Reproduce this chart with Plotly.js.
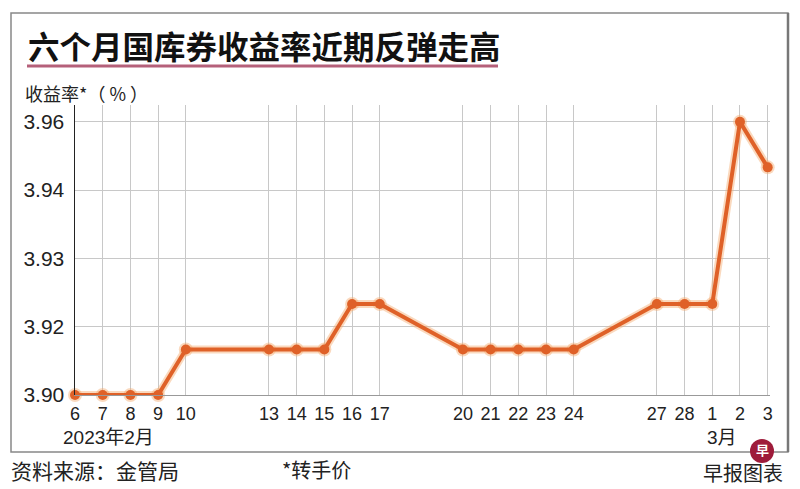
<!DOCTYPE html>
<html>
<head>
<meta charset="utf-8">
<script src="https://cdn.plot.ly/plotly-3.0.1.min.js"></script>
<style>html,body{margin:0;padding:0;background:#fff;}#chart{width:800px;height:489px;}</style>
</head>
<body>
<div id="chart"></div>
<script>
// Data
const dates = ['2023-02-06','2023-02-07','2023-02-08','2023-02-09','2023-02-10',
  '2023-02-13','2023-02-14','2023-02-15','2023-02-16','2023-02-17',
  '2023-02-20','2023-02-21','2023-02-22','2023-02-23','2023-02-24',
  '2023-02-27','2023-02-28','2023-03-01','2023-03-02','2023-03-03'];
const yields = [3.90,3.90,3.90,3.90,3.91,
  3.91,3.91,3.91,3.92,3.92,
  3.91,3.91,3.91,3.91,3.91,
  3.92,3.92,3.92,3.96,3.95];
const dayLabels = ['6','7','8','9','10','13','14','15','16','17','20','21','22','23','24','27','28','1','2','3'];
const yTickVals = [3.90,3.915,3.93,3.945,3.96];
const yTickText = ['3.90','3.92','3.93','3.94','3.96'];

const W = 800, H = 489;
const L = 75, R = 30, T = 105, B = 94;
const pw = W - L - R, ph = H - T - B;
const px = x => (x - L) / pw;
const py = y => (H - B - y) / ph;
const FONT = 'Liberation Sans, Noto Sans CJK SC, sans-serif';
const CJK = 'Noto Sans CJK SC, sans-serif';

const halo = {
  x: dates, y: yields, type: 'scatter', mode: 'lines+markers',
  line: {color: 'rgba(245,170,110,0.45)', width: 8},
  marker: {color: 'rgba(245,170,110,0.45)', size: 14},
  cliponaxis: false, hoverinfo: 'skip'
};
const trace = {
  x: dates, y: yields, type: 'scatter', mode: 'lines+markers',
  line: {color: '#df6128', width: 4},
  marker: {color: '#df6128', size: 10},
  cliponaxis: false, hoverinfo: 'skip'
};

const ann = (x, y, text, size, opts) => Object.assign({
  xref: 'paper', yref: 'paper', x: px(x), y: py(y), text: text, showarrow: false,
  xanchor: 'left', yanchor: 'middle', font: {family: CJK, size: size, color: '#222'}
}, opts || {});

const layout = {
  width: W, height: H,
  margin: {l: L, r: R, t: T, b: B, pad: 0},
  paper_bgcolor: '#fff', plot_bgcolor: '#fff',
  showlegend: false,
  xaxis: {
    type: 'date',
    range: ['2023-02-06', '2023-03-03 02:00'],
    tickvals: dates, ticktext: dayLabels,
    showgrid: true, gridcolor: '#c8c8c8', gridwidth: 1,
    showline: true, linecolor: '#999', linewidth: 1,
    ticks: '', zeroline: false, ticklabelstandoff: 2,
    tickfont: {family: FONT, size: 18, color: '#222'}
  },
  yaxis: {
    range: [3.90, 3.9637],
    tickvals: yTickVals, ticktext: yTickText,
    showgrid: true, gridcolor: '#c8c8c8', gridwidth: 1,
    showline: true, linecolor: '#222', linewidth: 1.5,
    ticks: '', zeroline: false, ticklabelstandoff: 5,
    tickfont: {family: FONT, size: 21, color: '#222'}
  },
  shapes: [
    {type: 'rect', xref: 'paper', yref: 'paper', x0: px(11), x1: px(788), y0: py(452), y1: py(13),
     line: {color: '#888', width: 1.5}, fillcolor: 'rgba(0,0,0,0)', layer: 'below'},
    {type: 'line', xref: 'paper', yref: 'paper', x0: px(788), x1: px(788), y0: py(452), y1: py(13),
     line: {color: '#777', width: 2.5}},
    {type: 'line', xref: 'paper', yref: 'paper', x0: px(27), x1: px(498), y0: py(66), y1: py(66),
     line: {color: '#b5607a', width: 3}},
    {type: 'circle', xref: 'paper', yref: 'paper', x0: px(750), x1: px(774), y0: py(439), y1: py(463),
     fillcolor: '#9e1b3a', line: {width: 0}}
  ],
  annotations: [
    ann(26, 45, '<b>六个月国库券收益率近期反弹走高</b>', 31.5, {font: {family: CJK, size: 31.5, color: '#111'}}),
    ann(23, 93, '收益率*（ % ）', 18),
    ann(61, 437, '2023年2月', 19, {font: {family: FONT, size: 19, color: '#222'}}),
    ann(722, 437, '3月', 19, {xanchor: 'center', font: {family: FONT, size: 19, color: '#222'}}),
    ann(9, 470, '资料来源：金管局', 21),
    ann(280, 469, '*转手价', 20),
    ann(785, 472, '早报图表', 20, {xanchor: 'right'}),
    ann(762, 449, '<b>早</b>', 13, {xanchor: 'center', font: {family: CJK, size: 13, color: '#fff'}})
  ]
};

Plotly.newPlot('chart', [halo, trace], layout, {displayModeBar: false, staticPlot: true});
</script>
</body>
</html>
